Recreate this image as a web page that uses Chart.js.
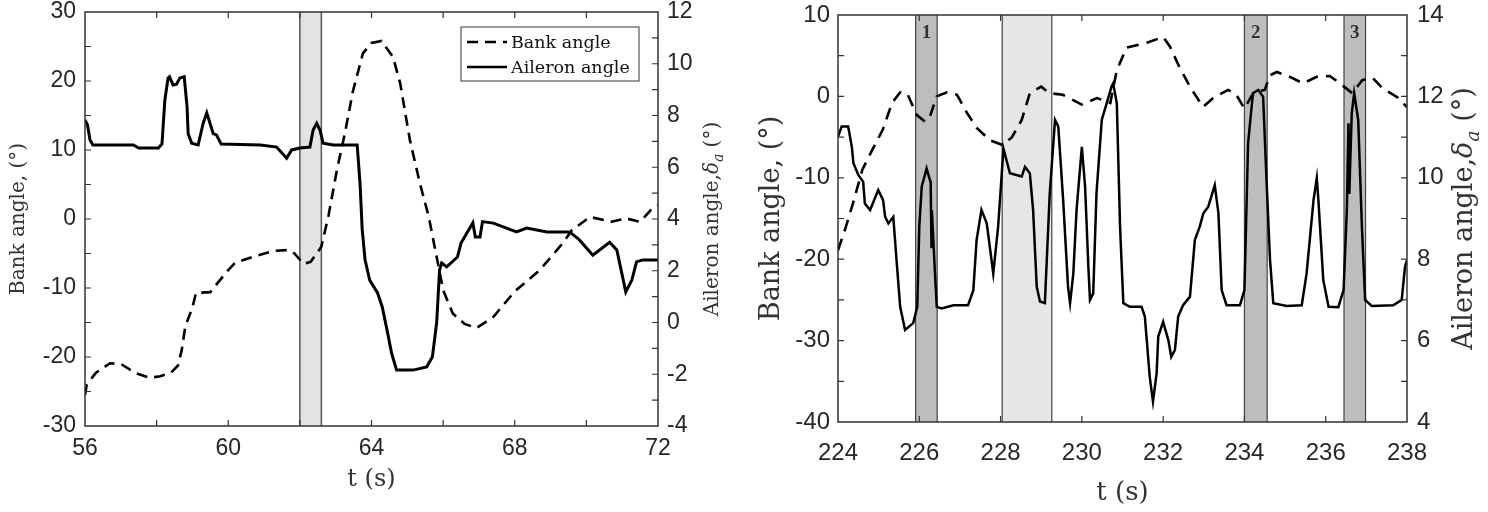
<!DOCTYPE html>
<html><head><meta charset="utf-8">
<script src="https://cdn.jsdelivr.net/npm/chart.js@4.4.1/dist/chart.umd.min.js"></script>
<style>
html,body{margin:0;padding:0;background:#fff;}
#wrap{position:relative;width:1488px;height:512px;overflow:hidden;background:#fff;}
canvas{position:absolute;top:0;}
#c1{left:0;} #c2{left:744px;}
</style></head><body>
<div id="wrap"><canvas id="c1" width="744" height="512"></canvas><canvas id="c2" width="744" height="512"></canvas></div>
<script>
// ---------------- DATA ----------------
const seriesNames = ['Bank angle', 'Aileron angle'];
const xTitle = 't (s)';
const yLeftTitle = 'Bank angle, (°)';
const yRightTitleParts = ['Aileron angle,', 'δ', 'a', ' (°)'];

// Left panel
const leftXLabels = [56, 60, 64, 68, 72];
const leftYLabels = [-30, -20, -10, 0, 10, 20, 30];
const leftY2Labels = [-4, -2, 0, 2, 4, 6, 8, 10, 12];
const leftBank = [[56.0,-25.5],[56.05,-24.0],[56.3,-22.3],[56.7,-20.9],[57.0,-21.0],[57.4,-22.3],[57.8,-23.0],[58.1,-22.8],[58.4,-22.3],[58.6,-21.2],[58.7,-19.0],[58.8,-15.6],[59.0,-12.8],[59.1,-10.7],[59.5,-10.6],[59.7,-9.3],[60.0,-7.4],[60.2,-6.3],[60.75,-5.4],[61.3,-4.6],[61.7,-4.5],[61.85,-5.0],[62.1,-6.5],[62.3,-6.2],[62.5,-4.8],[62.6,-4.0],[62.8,0.5],[63.03,7.0],[63.26,12.5],[63.48,18.5],[63.76,24.0],[64.0,25.5],[64.28,25.8],[64.6,23.5],[64.8,19.7],[65.07,11.5],[65.35,5.2],[65.6,0.3],[65.8,-5.0],[66.0,-10.3],[66.27,-13.7],[66.6,-15.2],[66.93,-15.8],[67.4,-14.2],[68.0,-10.5],[68.7,-7.4],[69.34,-3.5],[69.6,-1.6],[70.1,0.3],[70.7,-0.4],[71.1,0.1],[71.5,-0.4],[71.8,1.3],[72.0,2.0]];
const leftAileron = [[56.0,7.83],[56.07,7.63],[56.14,7.05],[56.22,6.86],[57.35,6.86],[57.5,6.74],[58.05,6.74],[58.15,6.9],[58.23,8.6],[58.32,9.45],[58.36,9.5],[58.46,9.18],[58.55,9.2],[58.65,9.45],[58.77,9.5],[58.85,8.33],[58.88,7.3],[58.98,6.93],[59.16,6.86],[59.3,7.7],[59.4,8.1],[59.49,7.7],[59.58,7.3],[59.67,7.25],[59.8,6.9],[60.9,6.86],[61.35,6.78],[61.63,6.35],[61.77,6.67],[62.0,6.74],[62.28,6.78],[62.37,7.44],[62.47,7.7],[62.56,7.44],[62.65,6.93],[62.93,6.86],[63.6,6.86],[63.68,5.38],[63.74,3.6],[63.82,2.42],[63.95,1.64],[64.17,1.14],[64.3,0.6],[64.45,-0.4],[64.56,-1.18],[64.7,-1.84],[65.16,-1.84],[65.54,-1.72],[65.7,-1.33],[65.82,0.0],[65.9,2.03],[65.96,2.3],[66.1,2.15],[66.4,2.53],[66.5,3.07],[66.66,3.45],[66.83,3.85],[66.9,3.3],[67.03,3.3],[67.1,3.9],[67.4,3.84],[68.05,3.5],[68.33,3.65],[68.9,3.5],[69.53,3.5],[69.8,3.2],[70.18,2.6],[70.65,3.1],[70.85,2.8],[70.99,1.9],[71.1,1.18],[71.27,1.64],[71.4,2.34],[71.57,2.42],[72.0,2.42]];
const leftBandStart = [62.0];
const leftBandEnd = [62.6];
const leftBandLabels = [''];

// Right panel
const rightXLabels = [224, 226, 228, 230, 232, 234, 236, 238];
const rightYLabels = [-40, -30, -20, -10, 0, 10];
const rightY2Labels = [4, 6, 8, 10, 12, 14];
const rightBank = [[224.0,-18.9],[224.17,-16.4],[224.37,-13.1],[224.6,-9.0],[224.84,-6.6],[225.1,-4.1],[225.33,-0.8],[225.53,0.5],[225.7,0.4],[225.94,-2.3],[226.14,-3.1],[226.26,-2.5],[226.43,0.0],[226.68,0.5],[226.93,0.2],[227.17,-2.0],[227.42,-3.9],[227.74,-5.4],[228.06,-6.0],[228.28,-5.0],[228.52,-2.9],[228.72,0.4],[229.0,1.2],[229.2,0.4],[229.53,0.2],[230.0,-1.0],[230.37,-0.2],[230.7,-0.8],[230.86,3.2],[231.1,6.0],[231.6,6.6],[232.0,7.3],[232.17,6.1],[232.4,3.6],[232.66,1.2],[232.98,-1.3],[233.23,-0.2],[233.6,0.8],[233.8,0.2],[234.0,-1.5],[234.18,0.1],[234.34,0.6],[234.5,0.8],[234.63,2.6],[234.8,3.0],[235.12,2.4],[235.44,1.6],[235.78,2.4],[236.1,2.5],[236.35,1.6],[236.65,0.4],[236.9,2.0],[237.15,2.3],[237.4,1.0],[237.76,-0.1],[238.0,-1.3]];
const rightAileron = [[224.0,11.01],[224.09,11.26],[224.25,11.26],[224.34,10.76],[224.38,10.36],[224.5,10.07],[224.62,9.9],[224.66,9.37],[224.79,9.21],[224.99,9.7],[225.11,9.45],[225.16,9.04],[225.24,8.88],[225.36,9.04],[225.44,7.98],[225.53,6.83],[225.65,6.26],[225.85,6.43],[225.95,6.83],[226.0,8.8],[226.06,9.78],[226.18,10.23],[226.26,9.95],[226.28,9.9],[226.3,8.3],[226.31,9.2],[226.39,7.57],[226.43,6.83],[226.55,6.79],[226.84,6.87],[227.2,6.87],[227.33,7.24],[227.41,8.47],[227.53,9.21],[227.66,8.88],[227.82,7.65],[227.94,8.8],[228.03,10.11],[228.07,10.72],[228.23,10.11],[228.52,10.03],[228.6,10.27],[228.72,10.11],[228.8,9.21],[228.89,7.32],[228.97,6.96],[229.09,6.92],[229.21,9.62],[229.34,11.42],[229.42,11.26],[229.54,9.45],[229.66,7.32],[229.71,6.92],[229.79,7.65],[229.87,9.21],[230.0,10.76],[230.08,9.78],[230.16,7.81],[230.2,7.0],[230.28,7.16],[230.36,9.62],[230.49,11.42],[230.61,11.83],[230.73,12.24],[230.77,12.32],[230.86,11.83],[230.94,8.8],[231.02,6.92],[231.18,6.83],[231.47,6.83],[231.55,6.59],[231.59,6.1],[231.67,5.11],[231.75,4.5],[231.84,5.2],[231.88,6.1],[232.0,6.46],[232.13,6.0],[232.2,5.6],[232.29,5.77],[232.37,6.59],[232.49,6.87],[232.66,7.08],[232.78,8.47],[232.9,8.8],[232.99,9.13],[233.11,9.29],[233.27,9.82],[233.36,9.13],[233.44,7.24],[233.56,6.87],[233.89,6.87],[234.0,7.24],[234.09,10.85],[234.21,12.08],[234.34,12.16],[234.46,11.99],[234.54,10.03],[234.63,7.98],[234.71,6.92],[235.04,6.85],[235.41,6.87],[235.53,7.65],[235.7,9.45],[235.78,9.99],[235.82,9.45],[235.94,7.49],[236.07,6.83],[236.31,6.82],[236.44,7.24],[236.52,9.21],[236.56,11.34],[236.58,9.6],[236.64,11.58],[236.7,12.08],[236.8,11.42],[236.89,8.8],[236.97,7.0],[237.13,6.85],[237.66,6.87],[237.87,7.0],[237.95,7.81],[238.0,7.98]];
const rightBandStart = [225.91, 228.04, 234.0, 236.45];
const rightBandEnd = [226.44, 229.26, 234.56, 236.98];
const rightBandLabels = ['1', '', '2', '3'];

// ---------------- HELPERS ----------------
const toXY = arr => arr.map(p => ({x: p[0], y: p[1]}));

function hasFont(name) {
  const c = document.createElement('canvas').getContext('2d');
  c.font = '40px monospace';
  const w1 = c.measureText('0123456789').width;
  c.font = '40px "' + name + '", monospace';
  const w2 = c.measureText('0123456789').width;
  return Math.abs(w1 - w2) > 0.5;
}
const narrowOK = hasFont('Liberation Sans Narrow');

const decor = {
  id: 'decor',
  beforeDatasetsDraw(chart, args, o) {
    const {ctx, chartArea: a} = chart; const x = chart.scales.x;
    ctx.save();
    o.bandStart.forEach((s, i) => {
      const x0 = x.getPixelForValue(s), x1 = x.getPixelForValue(o.bandEnd[i]);
      ctx.fillStyle = o.bandFills[i];
      ctx.fillRect(x0, a.top, x1 - x0, a.bottom - a.top);
      ctx.strokeStyle = o.bandEdge; ctx.lineWidth = o.bandEdgeWidth;
      ctx.beginPath();
      ctx.moveTo(x0, a.top); ctx.lineTo(x0, a.bottom);
      ctx.moveTo(x1, a.top); ctx.lineTo(x1, a.bottom);
      ctx.stroke();
    });
    ctx.restore();
  },
  afterDatasetsDraw(chart, args, o) {
    const {ctx, chartArea: a} = chart; const {x, y, y2} = chart.scales;
    ctx.save();
    // band labels
    ctx.fillStyle = '#333'; ctx.font = o.bandLabelFont; ctx.textAlign = 'center'; ctx.textBaseline = 'middle';
    o.bandStart.forEach((s, i) => {
      const lab = o.bandLabels[i];
      if (!lab) return;
      const cx = (x.getPixelForValue(s) + x.getPixelForValue(o.bandEnd[i])) / 2;
      ctx.fillText(lab, cx, a.top + o.bandLabelDy);
    });
    // frame
    ctx.strokeStyle = '#333'; ctx.lineWidth = 1.5;
    ctx.strokeRect(a.left, a.top, a.right - a.left, a.bottom - a.top);
    // inward ticks
    const L = o.tickLen;
    ctx.lineWidth = 1.2;
    ctx.beginPath();
    x.ticks.forEach(t => {
      const p = x.getPixelForValue(t.value);
      if (p <= a.left + 1 || p >= a.right - 1) return;
      ctx.moveTo(p, a.bottom); ctx.lineTo(p, a.bottom - L);
      ctx.moveTo(p, a.top); ctx.lineTo(p, a.top + L);
    });
    y.ticks.forEach(t => {
      const p = y.getPixelForValue(t.value);
      if (p <= a.top + 1 || p >= a.bottom - 1) return;
      ctx.moveTo(a.left, p); ctx.lineTo(a.left + L, p);
    });
    y2.ticks.forEach(t => {
      const p = y2.getPixelForValue(t.value);
      if (p <= a.top + 1 || p >= a.bottom - 1) return;
      ctx.moveTo(a.right, p); ctx.lineTo(a.right - L, p);
    });
    ctx.stroke();
    // legend
    if (o.legend) {
      const g = o.legend;
      ctx.fillStyle = '#fff'; ctx.fillRect(g.x, g.y, g.w, g.h);
      ctx.strokeStyle = '#333'; ctx.lineWidth = 1; ctx.strokeRect(g.x, g.y, g.w, g.h);
      ctx.font = g.font; ctx.fillStyle = '#111'; ctx.textAlign = 'left'; ctx.textBaseline = 'middle';
      chart.data.datasets.forEach((ds, i) => {
        const yy = g.y + g.rowY[i];
        ctx.strokeStyle = '#000'; ctx.lineWidth = 2.5;
        ctx.setLineDash(ds.borderDash || []);
        ctx.beginPath(); ctx.moveTo(g.x + 6, yy); ctx.lineTo(g.x + 46, yy); ctx.stroke();
        ctx.setLineDash([]);
        ctx.fillText(ds.label, g.x + 50, yy + 1);
      });
    }
    // right axis title, reading bottom-to-top
    const rt = o.rightTitle;
    ctx.translate(rt.cx, rt.cy); ctx.rotate(-Math.PI / 2);
    const fonts = [rt.font, rt.italic, rt.sub, rt.font];
    const dys = [0, 0, rt.subDy, 0];
    let w = 0;
    yRightTitleParts.forEach((s, i) => { ctx.font = fonts[i]; w += ctx.measureText(s).width; });
    let cur = -w / 2;
    ctx.fillStyle = '#333'; ctx.textAlign = 'left'; ctx.textBaseline = 'alphabetic';
    yRightTitleParts.forEach((s, i) => {
      ctx.font = fonts[i];
      ctx.fillText(s, cur, rt.base + dys[i]);
      cur += ctx.measureText(s).width;
    });
    ctx.restore();
  }
};

function fixW(w) { return s => { s.width = w; s.paddingTop = 0; s.paddingBottom = 0; }; }
function fixH(h) { return s => { s.height = h; s.paddingLeft = 0; s.paddingRight = 0; }; }
const noGrid = {display: false, drawTicks: false, drawOnChartArea: false};

function build(canvasId, P) {
  const tickFont = {family: P.tickFamily, size: P.tickSize};
  return new Chart(document.getElementById(canvasId), {
    type: 'line',
    data: {
      datasets: [
        {label: seriesNames[0], data: toXY(P.bank), yAxisID: 'y', borderColor: '#000', borderWidth: P.dashW, borderDash: P.dash, pointRadius: 0, tension: 0, fill: false},
        {label: seriesNames[1], data: toXY(P.ail), yAxisID: 'y2', borderColor: '#000', borderWidth: P.solidW, pointRadius: 0, tension: 0, fill: false}
      ]
    },
    options: {
      responsive: false, animation: false, devicePixelRatio: 1,
      layout: {padding: {top: P.top, left: 0, right: 0, bottom: 0}},
      plugins: {
        legend: {display: false}, tooltip: {enabled: false},
        decor: P.decor
      },
      scales: {
        x: {
          type: 'linear', position: 'bottom', min: P.xmin, max: P.xmax,
          afterFit: fixH(P.xH),
          grid: noGrid, border: {display: false},
          ticks: {stepSize: P.xStep, autoSkip: false, maxRotation: 0, padding: P.xPad, color: '#262626',
            font: tickFont,
            callback: v => P.xLabels.includes(v) ? String(v) : ''},
          title: {display: true, text: xTitle, color: '#333', padding: {top: 0, bottom: P.xTitlePad},
            font: {family: '"DejaVu Serif", serif', size: P.xTitleSize}}
        },
        y: {
          type: 'linear', position: 'left', min: P.ymin, max: P.ymax,
          afterFit: fixW(P.yW),
          grid: noGrid, border: {display: false},
          ticks: {stepSize: 5, autoSkip: false, padding: P.yPad, color: '#262626',
            font: tickFont,
            callback: v => P.yLabels.includes(v) ? String(v) : ''},
          title: {display: true, text: yLeftTitle, color: '#333', padding: {top: P.yTitlePad, bottom: 0},
            font: {family: '"DejaVu Serif", serif', size: P.yTitleSize}}
        },
        y2: {
          type: 'linear', position: 'right', min: P.y2min, max: P.y2max,
          afterFit: fixW(P.y2W),
          grid: noGrid, border: {display: false},
          ticks: {stepSize: 1, autoSkip: false, padding: P.y2Pad, color: '#262626',
            font: tickFont,
            callback: v => P.y2Labels.includes(v) ? String(v) : ''}
        }
      }
    },
    plugins: [decor]
  });
}

build('c1', {
  bank: leftBank, ail: leftAileron, dash: [11, 7], dashW: 2.6, solidW: 3,
  top: 12, xmin: 56, xmax: 72, xStep: 2, xLabels: leftXLabels, xH: 86, xPad: 9,
  ymin: -30, ymax: 30, yLabels: leftYLabels, yW: 85, yPad: 9,
  y2min: -4, y2max: 12, y2Labels: leftY2Labels, y2W: 86, y2Pad: 9,
  tickFamily: '"Liberation Sans", Arial, sans-serif', tickSize: 23,
  xTitleSize: 24, xTitlePad: 18, yTitleSize: 20, yTitlePad: 7,
  decor: {
    bandStart: leftBandStart, bandEnd: leftBandEnd, bandLabels: leftBandLabels,
    bandFills: ['#e3e3e3'], bandEdge: '#555', bandEdgeWidth: 1.5,
    bandLabelFont: 'bold 19px "Liberation Serif", serif', bandLabelDy: 20, tickLen: 6,
    legend: {x: 461, y: 27, w: 178, h: 54, rowY: [15, 40], font: '17.5px "DejaVu Serif", serif'},
    rightTitle: {cx: 711, cy: 219, base: 7, font: '20px "DejaVu Serif", serif', italic: 'italic 20px "DejaVu Serif", serif', sub: 'italic 14px "DejaVu Serif", serif', subDy: 5}
  }
});

build('c2', {
  bank: rightBank, ail: rightAileron, dash: [12, 8], dashW: 2.6, solidW: 2.5,
  top: 15, xmin: 224, xmax: 238, xStep: 2, xLabels: rightXLabels, xH: 90, xPad: narrowOK ? 16 : 17,
  ymin: -40, ymax: 10, yLabels: rightYLabels, yW: 94, yPad: 8,
  y2min: 4, y2max: 14, y2Labels: rightY2Labels, y2W: 81, y2Pad: 10,
  tickFamily: narrowOK ? '"Liberation Sans Narrow", "Liberation Sans", sans-serif' : '"Liberation Sans", Arial, sans-serif',
  tickSize: narrowOK ? 26 : 24,
  xTitleSize: 26, xTitlePad: 3, yTitleSize: 27, yTitlePad: 12,
  decor: {
    bandStart: rightBandStart, bandEnd: rightBandEnd, bandLabels: rightBandLabels,
    bandFills: ['#bdbdbd', '#e6e6e6', '#bdbdbd', '#bdbdbd'], bandEdge: '#444', bandEdgeWidth: 1.2,
    bandLabelFont: 'bold 19px "Liberation Serif", serif', bandLabelDy: 18, tickLen: 6,
    legend: null,
    rightTitle: {cx: 719, cy: 218.5, base: 9, font: '27px "DejaVu Serif", serif', italic: 'italic 27px "DejaVu Serif", serif', sub: 'italic 19px "DejaVu Serif", serif', subDy: 7}
  }
});
</script>
</body></html>
